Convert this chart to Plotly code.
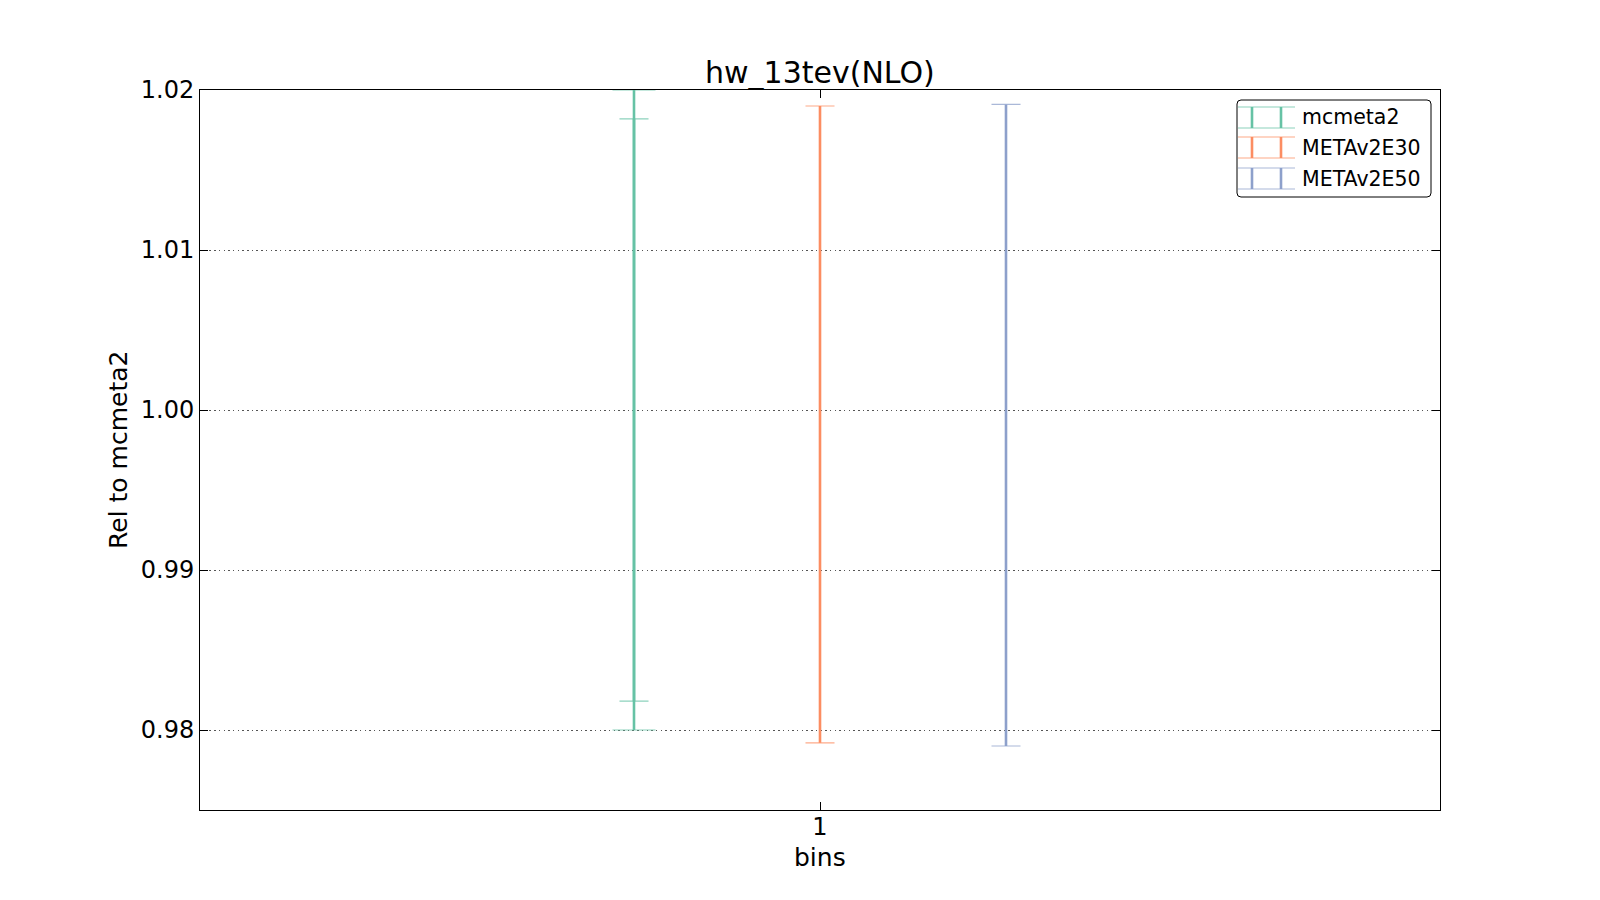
import plotly.graph_objects as go

# ---------------- data ----------------
series_names = ["mcmeta2", "METAv2E30", "METAv2E50"]
series_colors = ["#66c2a5", "#fc8d62", "#8da0cb"]
x_pos = [0.85, 1.0, 1.15]          # bin 1, dodged per series
y_center = [1.0, 1.0, 1.0]
err_plus = [0.0182, 0.0190, 0.0191]
err_minus = [0.0182, 0.0208, 0.0210]
# second (wider) error band, only for the reference
ref_err_plus = [0.0200]
ref_err_minus = [0.0200]

y_ticks = [0.98, 0.99, 1.00, 1.01, 1.02]
y_tick_labels = ["0.98", "0.99", "1.00", "1.01", "1.02"]
x_ticks = [1]
x_tick_labels = ["1"]

FONT = "DejaVu Sans"

# plot-area geometry (px, page coordinates)
W, H = 1600, 900
OFF = 8  # default body margin of the html page
L, R, T, B = 200, 1440, 90, 810


def px_x(px):
    return (px - L) / (R - L)


def px_y(py):
    return (B - py) / (B - T)


def rgba(hexc, a):
    h = hexc.lstrip("#")
    return "rgba(%d,%d,%d,%.2f)" % (int(h[0:2], 16), int(h[2:4], 16), int(h[4:6], 16), a)


fig = go.Figure()

# outer error band for reference series (caps)
fig.add_trace(go.Scatter(
    x=[x_pos[0]], y=[y_center[0]], mode="markers",
    marker=dict(size=0.1, color="rgba(0,0,0,0)"),
    error_y=dict(type="data", symmetric=False, array=ref_err_plus, arrayminus=ref_err_minus,
                 color=rgba(series_colors[0], 0.75), thickness=1.2, width=21.5),
    showlegend=False, hoverinfo="skip"))

for i, name in enumerate(series_names):
    # stems
    fig.add_trace(go.Scatter(
        x=[x_pos[i]], y=[y_center[i]], mode="markers",
        marker=dict(size=0.1, color="rgba(0,0,0,0)"),
        error_y=dict(type="data", symmetric=False, array=[err_plus[i]], arrayminus=[err_minus[i]],
                     color=series_colors[i], thickness=2.6, width=0),
        name=name, showlegend=False, hoverinfo="skip"))
    # caps
    fig.add_trace(go.Scatter(
        x=[x_pos[i]], y=[y_center[i]], mode="markers",
        marker=dict(size=0.1, color="rgba(0,0,0,0)"),
        error_y=dict(type="data", symmetric=False, array=[err_plus[i]], arrayminus=[err_minus[i]],
                     color=rgba(series_colors[i], 0.75), thickness=1.2, width=14.5),
        showlegend=False, hoverinfo="skip"))

# stem for the outer band of the reference
fig.add_trace(go.Scatter(
    x=[x_pos[0]], y=[y_center[0]], mode="markers",
    marker=dict(size=0.1, color="rgba(0,0,0,0)"),
    error_y=dict(type="data", symmetric=False, array=ref_err_plus, arrayminus=ref_err_minus,
                 color=series_colors[0], thickness=2.6, width=0),
    showlegend=False, hoverinfo="skip"))

shapes = []
annotations = []

# ---- custom matplotlib-like legend ----
lx0, ly0, lx1, ly1 = 1237, 100, 1431, 197
r = 4
path = ("M {a},{b} L {c},{b} Q {e},{b} {e},{f} L {e},{g} Q {e},{h} {c},{h} "
        "L {a},{h} Q {i},{h} {i},{g} L {i},{f} Q {i},{b} {a},{b} Z").format(
    a=px_x(lx0 + r), b=px_y(ly0), c=px_x(lx1 - r), e=px_x(lx1), f=px_y(ly0 + r),
    g=px_y(ly1 - r), h=px_y(ly1), i=px_x(lx0))
shapes.append(dict(type="path", xref="paper", yref="paper", path=path,
                   line=dict(color="black", width=1), fillcolor="white", layer="above"))

entry_top = [107, 137, 168]
for i, name in enumerate(series_names):
    t = entry_top[i]
    b = t + 21
    for yy in (t, b):
        shapes.append(dict(type="line", xref="paper", yref="paper",
                           x0=px_x(1238), x1=px_x(1295), y0=px_y(yy), y1=px_y(yy),
                           line=dict(color=rgba(series_colors[i], 0.75), width=1.2), layer="above"))
    for xx in (1252, 1281):
        shapes.append(dict(type="line", xref="paper", yref="paper",
                           x0=px_x(xx), x1=px_x(xx), y0=px_y(t), y1=px_y(b),
                           line=dict(color=series_colors[i], width=2.6), layer="above"))
    annotations.append(dict(xref="paper", yref="paper", x=px_x(1300), y=px_y((t + b) / 2),
                            text=name, showarrow=False, xanchor="left", yanchor="middle",
                            font=dict(family=FONT, size=20.5, color="black")))

# axis titles and chart title
annotations.append(dict(xref="paper", yref="paper", x=0.5, y=px_y(857), text="bins",
                        showarrow=False, xanchor="center", yanchor="middle",
                        font=dict(family=FONT, size=25, color="black")))
annotations.append(dict(xref="paper", yref="paper", x=px_x(118), y=0.5, text="Rel to mcmeta2",
                        showarrow=False, xanchor="center", yanchor="middle", textangle=-90,
                        font=dict(family=FONT, size=25, color="black")))
annotations.append(dict(xref="paper", yref="paper", x=0.5, y=px_y(72), text="hw_13tev(NLO)",
                        showarrow=False, xanchor="center", yanchor="middle",
                        font=dict(family=FONT, size=30, color="black")))

fig.update_layout(
    width=W, height=H,
    margin=dict(l=L - OFF, r=W - R + OFF, t=T - OFF, b=H - B + OFF, autoexpand=False),
    paper_bgcolor="white", plot_bgcolor="white",
    showlegend=False,
    shapes=shapes, annotations=annotations,
    font=dict(family=FONT, color="black"),
    xaxis=dict(range=[0.5, 1.5], tickmode="array", tickvals=x_ticks, ticktext=x_tick_labels,
               showgrid=False, zeroline=False, showline=True, linecolor="black", linewidth=1,
               mirror="ticks", ticks="inside", ticklen=8, tickcolor="black", tickwidth=1,
               ticklabelstandoff=-5,
               tickfont=dict(family=FONT, size=24, color="black")),
    yaxis=dict(range=[0.975, 1.02], tickmode="array", tickvals=y_ticks, ticktext=y_tick_labels,
               showgrid=True, gridcolor="#555555", gridwidth=1, griddash="1.5px,3.2px",
               zeroline=False, showline=True, linecolor="black", linewidth=1,
               mirror="ticks", ticks="inside", ticklen=8, tickcolor="black", tickwidth=1,
               tickfont=dict(family=FONT, size=24, color="black")),
)

fig.write_html("out.html")
